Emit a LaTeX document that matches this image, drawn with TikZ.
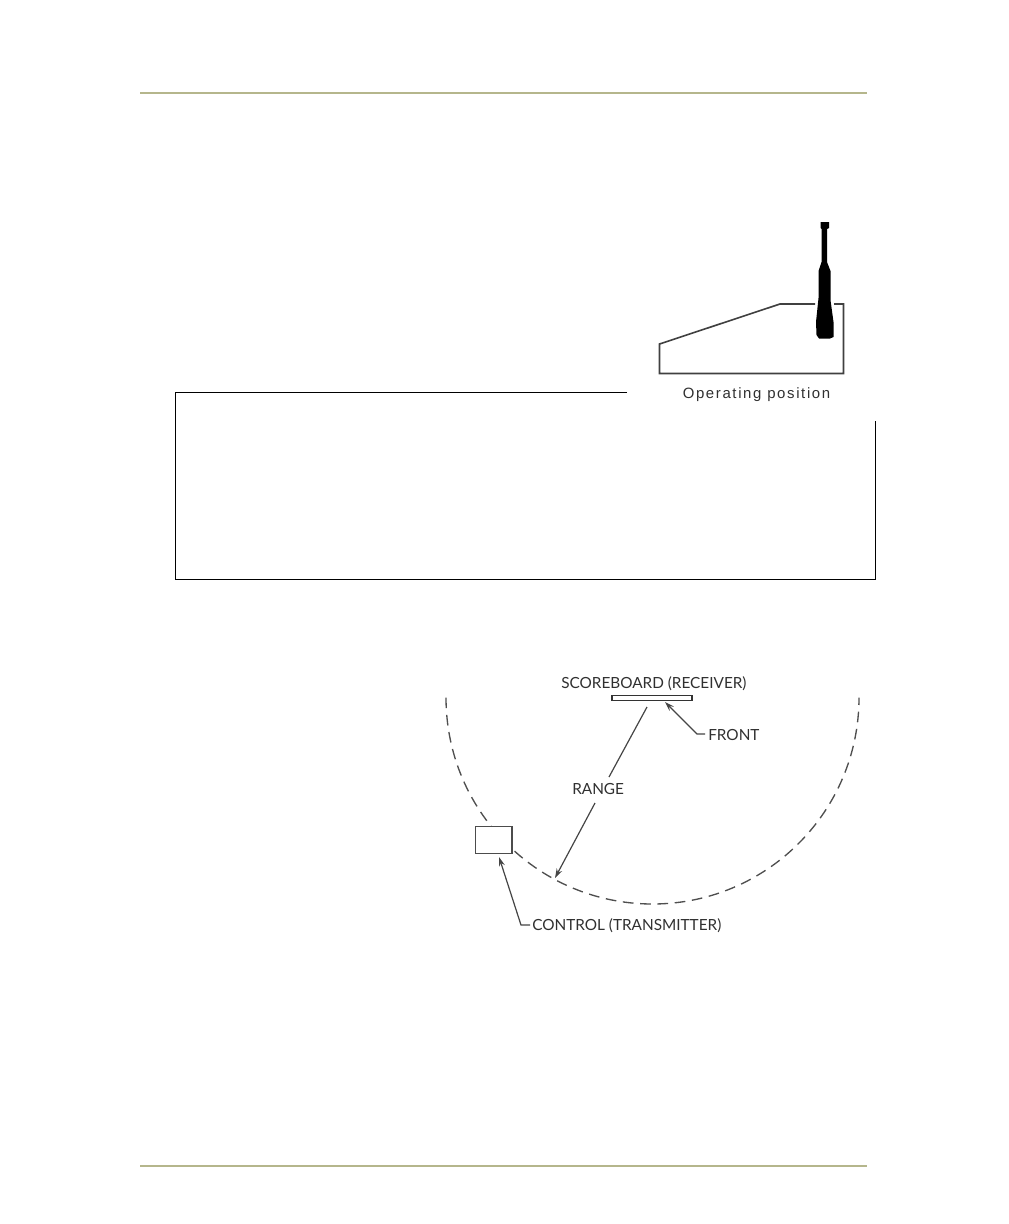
\documentclass[tikz,border=0pt]{standalone}
\usepackage{fontspec}
\setmainfont{Lato}
\newfontfamily\opfont[LetterSpace=11]{Liberation Sans}
\usetikzlibrary{arrows.meta}
\definecolor{rule}{HTML}{B5B68C}
\definecolor{ink}{HTML}{303030}
\tikzset{
  rulerline/.style={draw=rule,line width=1pt},
  boxline/.style={draw=black,line width=0.8pt},
  radioline/.style={draw=black!75,line width=1.2pt,line join=miter},
  pointer/.style={draw=ink!90,line width=0.9pt,-{Stealth[length=7pt,width=4.5pt]}},
  plainline/.style={draw=ink!90,line width=0.9pt},
  lab/.style={font=\fontsize{11.5}{13}\selectfont,text=ink,inner sep=0pt,anchor=west},
  rangecurve/.style={draw=ink!85,line width=1pt,dash pattern=on 8pt off 5pt},
}
\begin{document}
\begin{tikzpicture}[x=0.75pt,y=-0.75pt]
\useasboundingbox (0,0) rectangle (1008,1224);
\fill[white] (0,0) rectangle (1008,1224);
% page rules
\coordinate (ruleTL) at (140,93); \coordinate (ruleTR) at (867,93);
\coordinate (ruleBL) at (140,1166); \coordinate (ruleBR) at (867,1166);
\draw[rulerline] (ruleTL) -- (ruleTR);
\draw[rulerline] (ruleBL) -- (ruleBR);
% frame, open at the upper right
\coordinate (frameA) at (627,392.5); \coordinate (frameB) at (175.5,392.5);
\coordinate (frameC) at (175.5,579.5); \coordinate (frameD) at (875.5,579.5);
\coordinate (frameE) at (875.5,421);
\draw[boxline] (frameA) -- (frameB) -- (frameC) -- (frameD) -- (frameE);
% radio
\coordinate (r1) at (659.5,344); \coordinate (r2) at (780,304); \coordinate (r3) at (815,304);
\coordinate (r4) at (843.5,304); \coordinate (r5) at (843.5,373.5); \coordinate (r6) at (659.5,373.5);
\coordinate (r7) at (834,304);
\draw[radioline] (r3) -- (r2) -- (r1) -- (r6) -- (r5) -- (r4) -- (r7);
\fill[black] (820.5,222) -- (829,222) -- (829,228) -- (827,229) -- (827,262) -- (830.5,271) -- (830.5,300) -- (833.5,322) -- (833.5,337) -- (830,338.5) -- (819,338.5) -- (816.5,335) -- (816,322) -- (818.5,298) -- (818.5,271) -- (821.5,262) -- (821.5,229) -- (820.5,228) -- cycle;
\node[inner sep=0pt,font=\opfont\fontsize{11.2}{13}\selectfont,text=ink] (oplabel) at (756.5,395) {Operating position};
% coverage curve
\draw[rangecurve] (446,697.5) arc[start angle=180,end angle=0,radius=206.5];
% scoreboard
\node[draw=black!80,line width=1.1pt,fill=white,minimum width=60pt,minimum height=3.6pt,inner sep=0pt] (board) at (652,698) {};
\node[lab] (sblabel) at (561,684) {SCOREBOARD (RECEIVER)};
\node[lab] (frontlabel) at (708,735) {FRONT};
\node[lab] (rangelabel) at (572,789) {RANGE};
\node[lab] (ctrllabel) at (532,926) {CONTROL (TRANSMITTER)};
% control box
\node[draw=black!70,line width=1pt,fill=white,minimum width=27.5pt,minimum height=20.5pt,inner sep=0pt] (ctrl) at (493.5,840) {};
% connectors
\coordinate (rangeTop) at (647,707); \coordinate (rangeA) at (609,777);
\coordinate (rangeB) at (595,803); \coordinate (rangeTip) at (555,878);
\draw[plainline] (rangeTop) -- (rangeA);
\draw[pointer] (rangeB) -- (rangeTip);
\coordinate (frontTip) at (665,702); \coordinate (frontElbow) at (697,734); \coordinate (frontEnd) at (705,734);
\draw[pointer] (frontEnd) -- (frontElbow) -- (frontTip);
\coordinate (ctrlTip) at (499,857); \coordinate (ctrlElbow) at (521,925); \coordinate (ctrlEnd) at (530,925);
\draw[pointer] (ctrlEnd) -- (ctrlElbow) -- (ctrlTip);
\end{tikzpicture}
\end{document}
